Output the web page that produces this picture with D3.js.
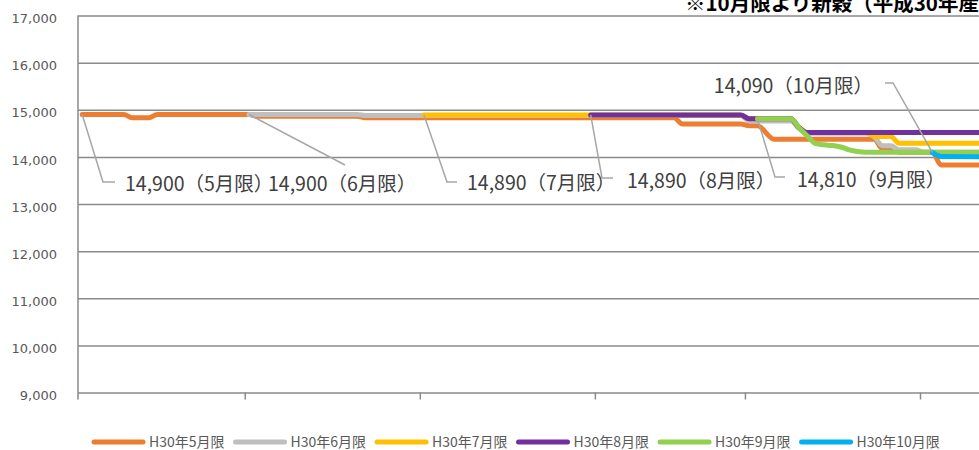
<!DOCTYPE html>
<html>
<head>
<meta charset="utf-8">
<script src="https://cdn.jsdelivr.net/npm/d3@7"></script>
<style>
body{margin:0;background:#fff;}
svg{display:block;}
</style>
</head>
<body>
<div id="chart"></div>
<script>
// series: [trading day, price]
var may = [[0,14900],[5,14900],[6,14830],[8,14830],[9,14900],[20,14900],[21,14860],[33,14860],[34,14830],[71,14830],[72,14700],[79,14700],[80,14660],[81,14660],[83,14375],[95,14375],[96,14175],[97,14175],[98,14100],[102,14100],[103,13830],[110,13830]];
var jun = [[20,14900],[33,14900],[34,14880],[79,14880],[80,14760],[85,14760],[86,14600],[87,14500],[94,14500],[95,14430],[96,14235],[97,14235],[98,14150],[100,14150],[101,14100],[110,14100]];
var jul = [[41,14890],[79,14890],[80,14810],[85,14810],[86,14620],[87,14515],[94,14515],[95,14440],[97,14430],[98,14290],[110,14290]];
var aug = [[61,14890],[79,14890],[80,14810],[85,14810],[86,14620],[87,14515],[110,14515]];
var sep = [[81,14810],[85,14810],[86,14620],[87,14440],[88,14280],[89,14255],[90,14240],[91,14210],[92,14150],[93,14115],[94,14100],[110,14100]];
var oct = [[102,14090],[103,14010],[110,14000]];

var seriesNames = ['H30年5月限','H30年6月限','H30年7月限','H30年8月限','H30年9月限','H30年10月限'];
var seriesData = [may,jun,jul,aug,sep,oct];
var labelTexts = ['14,900（5月限）','14,900（6月限）','14,890（7月限）','14,890（8月限）','14,810（9月限）','14,090（10月限）'];
var yTicks = [9000,10000,11000,12000,13000,14000,15000,16000,17000];
var monthTicks = [19.5,40.5,61.5,79.5,100.5];
var title = '※10月限より新穀（平成30年産）';

var colors = ['#ED7D31','#BFBFBF','#FFC000','#7030A0','#92D050','#00B0F0'];

var W = 979, H = 450;
var m = {t:15.5,l:78,b:392.5};

var svg = d3.select('#chart').append('svg').attr('width',W).attr('height',H);

var x = d3.scaleLinear().domain([-0.5,100.5]).range([m.l,920]);
var y = d3.scaleLinear().domain([9000,17000]).range([m.b,m.t]);

//gridlines + y labels
var yAxis = svg.append('g')
	.attr('transform','translate('+m.l+',0)')
	.call(d3.axisLeft(y).tickValues(yTicks).tickSize(-(W-m.l)).tickPadding(21).tickFormat(d3.format(',')));
yAxis.select('.domain').remove();
yAxis.selectAll('.tick line').attr('stroke','#8a8a8a').attr('stroke-width',1.5);
yAxis.selectAll('.tick text')
	.attr('fill','#595959').attr('font-family','DejaVu Sans').attr('font-size',13).attr('dy','0.55em');

//left axis line
svg.append('line').attr('x1',m.l).attr('x2',m.l).attr('y1',m.t).attr('y2',m.b+7)
	.attr('stroke','#8a8a8a').attr('stroke-width',1.5);

//x axis
var xAxis = svg.append('g')
	.attr('transform','translate(0,'+m.b+')')
	.call(d3.axisBottom(x).tickValues(monthTicks).tickSize(7).tickFormat(''));
xAxis.select('.domain').remove();
xAxis.selectAll('.tick line').attr('stroke','#8a8a8a').attr('stroke-width',1.5);

svg.append('clipPath').attr('id','clip').append('rect')
	.attr('x',m.l).attr('y',0).attr('width',W-m.l).attr('height',m.b);

var line = d3.line()
	.x(function(d){return x(d[0])})
	.y(function(d){return y(d[1])})
	.curve(d3.curveMonotoneX);

svg.append('g').attr('clip-path','url(#clip)')
	.selectAll('path').data(seriesData).enter().append('path')
	.attr('d',line)
	.attr('fill','none')
	.attr('stroke',function(d,i){return colors[i]})
	.attr('stroke-width',5)
	.attr('stroke-linecap','round')
	.attr('stroke-linejoin','round');

//data labels with leader lines
var labelLayout = [
	{elbow:[103,182],end:[115,182],tx:125,ty:184,anchor:'start'},
	{elbow:[345,165],end:null,tx:268,ty:184,anchor:'start'},
	{elbow:[447,182],end:[457,182],tx:467,ty:183.5,anchor:'start'},
	{elbow:[602,178],end:[613,178],tx:627,ty:181,anchor:'start'},
	{elbow:[775,177],end:[785,177],tx:797,ty:180,anchor:'start'},
	{elbow:[893,83],end:[885,83],tx:873,ty:86.5,anchor:'end'}
];

var labels = svg.append('g');
labelLayout.forEach(function(L,i){
	var p0 = seriesData[i][0];
	var pts = [[x(p0[0]),y(p0[1])],L.elbow];
	if(L.end) pts.push(L.end);
	labels.append('path')
		.attr('d',d3.line()(pts))
		.attr('fill','none').attr('stroke','#a6a6a6').attr('stroke-width',1.5);
	labels.append('text')
		.attr('x',L.tx).attr('y',L.ty).attr('dy','0.35em')
		.attr('text-anchor',L.anchor)
		.attr('font-family','Noto Sans CJK JP').attr('font-size',19.5)
		.attr('fill','#404040')
		.text(labelTexts[i]);
});

//title (cut off at the right edge, as in the source)
svg.append('text').attr('x',685).attr('y',11)
	.attr('font-family','Noto Sans CJK JP').attr('font-size',20.5).attr('font-weight','bold')
	.attr('fill','#000').text(title);

//legend
var lg = svg.append('g').attr('transform','translate(0,442)');
var lx = 94;
seriesNames.forEach(function(name,i){
	lg.append('line').attr('x1',lx).attr('x2',lx+49).attr('y1',0).attr('y2',0)
		.attr('stroke',colors[i]).attr('stroke-width',5).attr('stroke-linecap','round');
	var t = lg.append('text').attr('x',lx+55).attr('y',0).attr('dy','0.35em')
		.attr('font-family','Noto Sans CJK JP').attr('font-size',14)
		.attr('fill','#595959').text(name);
	lx += 55 + t.node().getComputedTextLength() + 11;
});
</script>
</body>
</html>
